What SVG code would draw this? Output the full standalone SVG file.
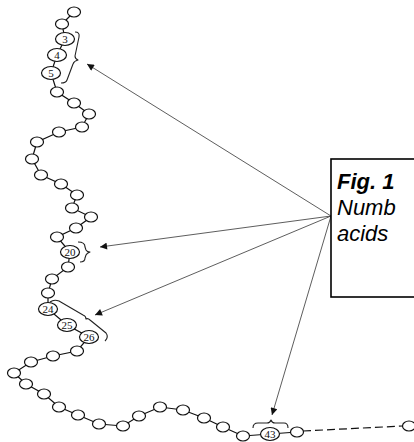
<svg xmlns="http://www.w3.org/2000/svg" width="414" height="442" viewBox="0 0 414 442">
  <defs>
    <style>
      .res { fill: #fff; stroke: #111; stroke-width: 1.2; }
      .chain { fill: none; stroke: #111; stroke-width: 1.2; }
      .brace { fill: none; stroke: #222; stroke-width: 1.1; stroke-linejoin: round; }
      .ptr { fill: none; stroke: #333; stroke-width: 0.8; }
      .num { font-family: "Liberation Serif", "Times New Roman", serif; font-size: 11px; fill: #111; text-anchor: middle; }
      .cap { font-family: "Liberation Sans", Arial, sans-serif; font-size: 22px; font-style: italic; fill: #000; }
    </style>
    <marker id="head" viewBox="0 0 10 10" refX="10" refY="5" markerWidth="9" markerHeight="7" markerUnits="userSpaceOnUse" orient="auto">
      <path d="M0,0 L10,5 L0,10 z" fill="#111"/>
    </marker>
  </defs>

  <rect width="414" height="442" fill="#fff"/>

  <!-- backbone links, pointer arrows and brackets -->
  <g id="connectors">
    <polyline class="chain" points="74,12 62,24 65,39 57,55 51,73 57,92 74,103 89,114 82,127 59,132 37,142 32,159 41,175 61,184 77,195 72,208 91,217 76,228 57,237 70,252 68,267 52,279 48,293 48,309 67,325 89,337 77,351 53,356 31,362 14,373 26,384 44,394 59,407 78,415 99,424 123,426 139,416 160,407 183,410 204,418 223,427 243,436 270,434 297,432"/>
    <line class="chain" x1="303" y1="431" x2="403" y2="426" stroke-dasharray="8,4" stroke="#444"/>

    <line class="ptr" x1="331" y1="216" x2="87" y2="64" marker-end="url(#head)"/>
    <line class="ptr" x1="331" y1="216" x2="100" y2="247" marker-end="url(#head)"/>
    <line class="ptr" x1="331" y1="216" x2="95" y2="315" marker-end="url(#head)"/>
    <line class="ptr" x1="331" y1="216" x2="272" y2="415" marker-end="url(#head)"/>

    <path class="brace" d="M75,32 Q80,32 79,37 L75,56 Q75,59 78,60 Q74,61 73,64 L67,80 Q66,83 61,83"/>
    <path class="brace" d="M78,242 Q85,242 85,247 L86,250 Q87,252 90,252 Q87,253 86,255 L85,258 Q85,262 80,262"/>
    <path class="brace" d="M50,302 Q54,299 59,301 L83,315 Q86,316 86,319 Q88,318 90,320 L106,333 Q109,337 105,341"/>
    <path class="brace" d="M253,428 Q253,423 258,423 L267,423 Q270,423 271,420 Q272,423 275,423 L284,423 Q288,423 288,428"/>
  </g>

  <!-- residues -->
  <g id="r1"><ellipse class="res" cx="74" cy="12" rx="6.5" ry="5"/></g>
  <g id="r2"><ellipse class="res" cx="62" cy="24" rx="6.5" ry="5"/></g>
  <g id="r3"><ellipse class="res" cx="65" cy="39" rx="9.5" ry="6.5"/><text class="num" x="65" y="42.8">3</text></g>
  <g id="r4"><ellipse class="res" cx="57" cy="55" rx="9.5" ry="6.5"/><text class="num" x="57" y="58.8">4</text></g>
  <g id="r5"><ellipse class="res" cx="51" cy="73" rx="9.5" ry="6.5"/><text class="num" x="51" y="76.8">5</text></g>
  <g id="r6"><ellipse class="res" cx="57" cy="92" rx="6.5" ry="5"/></g>
  <g id="r7"><ellipse class="res" cx="74" cy="103" rx="6.5" ry="5"/></g>
  <g id="r8"><ellipse class="res" cx="89" cy="114" rx="6.5" ry="5"/></g>
  <g id="r9"><ellipse class="res" cx="82" cy="127" rx="6.5" ry="5"/></g>
  <g id="r10"><ellipse class="res" cx="59" cy="132" rx="6.5" ry="5"/></g>
  <g id="r11"><ellipse class="res" cx="37" cy="142" rx="6.5" ry="5"/></g>
  <g id="r12"><ellipse class="res" cx="32" cy="159" rx="6.5" ry="5"/></g>
  <g id="r13"><ellipse class="res" cx="41" cy="175" rx="6.5" ry="5"/></g>
  <g id="r14"><ellipse class="res" cx="61" cy="184" rx="6.5" ry="5"/></g>
  <g id="r15"><ellipse class="res" cx="77" cy="195" rx="6.5" ry="5"/></g>
  <g id="r16"><ellipse class="res" cx="72" cy="208" rx="6.5" ry="5"/></g>
  <g id="r17"><ellipse class="res" cx="91" cy="217" rx="6.5" ry="5"/></g>
  <g id="r18"><ellipse class="res" cx="76" cy="228" rx="6.5" ry="5"/></g>
  <g id="r19"><ellipse class="res" cx="57" cy="237" rx="6.5" ry="5"/></g>
  <g id="r20"><ellipse class="res" cx="70" cy="252" rx="9.5" ry="6.5"/><text class="num" x="70" y="255.8">20</text></g>
  <g id="r21"><ellipse class="res" cx="68" cy="267" rx="6.5" ry="5"/></g>
  <g id="r22"><ellipse class="res" cx="52" cy="279" rx="6.5" ry="5"/></g>
  <g id="r23"><ellipse class="res" cx="48" cy="293" rx="6.5" ry="5"/></g>
  <g id="r24"><ellipse class="res" cx="48" cy="309" rx="9.5" ry="6.5"/><text class="num" x="48" y="312.8">24</text></g>
  <g id="r25"><ellipse class="res" cx="67" cy="325" rx="9.5" ry="6.5"/><text class="num" x="67" y="328.8">25</text></g>
  <g id="r26"><ellipse class="res" cx="89" cy="337" rx="9.5" ry="6.5"/><text class="num" x="89" y="340.8">26</text></g>
  <g id="r27"><ellipse class="res" cx="77" cy="351" rx="6.5" ry="5"/></g>
  <g id="r28"><ellipse class="res" cx="53" cy="356" rx="6.5" ry="5"/></g>
  <g id="r29"><ellipse class="res" cx="31" cy="362" rx="6.5" ry="5"/></g>
  <g id="r30"><ellipse class="res" cx="14" cy="373" rx="6.5" ry="5"/></g>
  <g id="r31"><ellipse class="res" cx="26" cy="384" rx="6.5" ry="5"/></g>
  <g id="r32"><ellipse class="res" cx="44" cy="394" rx="6.5" ry="5"/></g>
  <g id="r33"><ellipse class="res" cx="59" cy="407" rx="6.5" ry="5"/></g>
  <g id="r34"><ellipse class="res" cx="78" cy="415" rx="6.5" ry="5"/></g>
  <g id="r35"><ellipse class="res" cx="99" cy="424" rx="6.5" ry="5"/></g>
  <g id="r36"><ellipse class="res" cx="123" cy="426" rx="6.5" ry="5"/></g>
  <g id="r37"><ellipse class="res" cx="139" cy="416" rx="6.5" ry="5"/></g>
  <g id="r38"><ellipse class="res" cx="160" cy="407" rx="6.5" ry="5"/></g>
  <g id="r39"><ellipse class="res" cx="183" cy="410" rx="6.5" ry="5"/></g>
  <g id="r40"><ellipse class="res" cx="204" cy="418" rx="6.5" ry="5"/></g>
  <g id="r41"><ellipse class="res" cx="223" cy="427" rx="6.5" ry="5"/></g>
  <g id="r42"><ellipse class="res" cx="243" cy="436" rx="6.5" ry="5"/></g>
  <g id="r43"><ellipse class="res" cx="270" cy="434" rx="9.5" ry="6.5"/><text class="num" x="270" y="437.8">43</text></g>
  <g id="r44"><ellipse class="res" cx="297" cy="432" rx="6.5" ry="5"/></g>
  <g id="rEnd"><ellipse class="res" cx="409" cy="426" rx="6.5" ry="5"/></g>

  <!-- caption box -->
  <g id="caption">
    <rect x="331" y="159" width="100" height="138" fill="#fff" stroke="#000" stroke-width="1.6"/>
    <text class="cap" x="337" y="189" font-weight="bold">Fig. 1</text>
    <text class="cap" x="337" y="215">Numb</text>
    <text class="cap" x="337" y="241">acids</text>
  </g>
</svg>
